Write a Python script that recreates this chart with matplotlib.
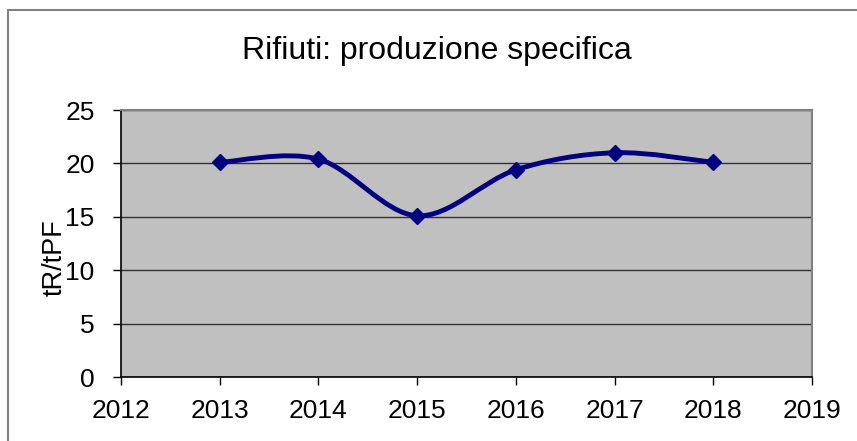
import matplotlib
matplotlib.use("Agg")
import matplotlib.pyplot as plt
from matplotlib.path import Path
from matplotlib.patches import PathPatch, Rectangle

# dati
anni = [2013, 2014, 2015, 2016, 2017, 2018]
valori = [20.1, 20.4, 15.1, 19.4, 21.0, 20.1]
x_ticks = [2012, 2013, 2014, 2015, 2016, 2017, 2018, 2019]
y_ticks = [0, 5, 10, 15, 20, 25]

plt.rcParams['font.family'] = ['Liberation Sans', 'DejaVu Sans']

fig = plt.figure(figsize=(8.57, 4.41), dpi=100)
ax = fig.add_axes([0.1412, 0.1451, 0.8063, 0.6054])

# bordo del grafico (stile Excel)
fig.patches.append(Rectangle((8 / 857, -0.1), 1.2, 1 - 10 / 441 + 0.1,
                             transform=fig.transFigure, fill=False,
                             edgecolor='#808080', linewidth=1.5))

ax.set_facecolor('#c0c0c0')
ax.set_xlim(2012, 2019)
ax.set_ylim(0, 25)
ax.set_xticks(x_ticks)
ax.set_yticks(y_ticks)
ax.yaxis.grid(True, color='#303030', linewidth=1)
ax.set_axisbelow(True)

for s in ['top', 'right']:
    ax.spines[s].set_color('#808080')
    ax.spines[s].set_linewidth(1.5)
for s in ['left', 'bottom']:
    ax.spines[s].set_color('black')
    ax.spines[s].set_linewidth(1.2)

ax.tick_params(axis='both', direction='out', length=6, width=1, labelsize=19)
ax.tick_params(axis='y', pad=13)
ax.tick_params(axis='x', pad=10)

# linea smussata (bezier tipo Excel)
verts = [(anni[0], valori[0])]
codes = [Path.MOVETO]
n = len(anni)
for i in range(n - 1):
    p0 = (anni[max(i - 1, 0)], valori[max(i - 1, 0)])
    p1 = (anni[i], valori[i])
    p2 = (anni[i + 1], valori[i + 1])
    p3 = (anni[min(i + 2, n - 1)], valori[min(i + 2, n - 1)])
    c1 = (p1[0] + (p2[0] - p0[0]) / 6, p1[1] + (p2[1] - p0[1]) / 6)
    c2 = (p2[0] - (p3[0] - p1[0]) / 6, p2[1] - (p3[1] - p1[1]) / 6)
    verts += [c1, c2, p2]
    codes += [Path.CURVE4] * 3
curva = PathPatch(Path(verts, codes), fill=False, edgecolor='#000080',
                  linewidth=3.5, capstyle='round', joinstyle='round', zorder=3)
ax.add_patch(curva)
ax.plot(anni, valori, linestyle='none', marker='D', markersize=8,
        color='#000080', zorder=4)

fig.text(437 / 857, 1 - 51 / 441, 'Rifiuti: produzione specifica',
         ha='center', va='center', fontsize=23)
fig.text(55 / 857, 1 - 258 / 441, 'tR/tPF', rotation=90,
         ha='center', va='center', fontsize=19.5)

fig.savefig('out.png', dpi=100)
